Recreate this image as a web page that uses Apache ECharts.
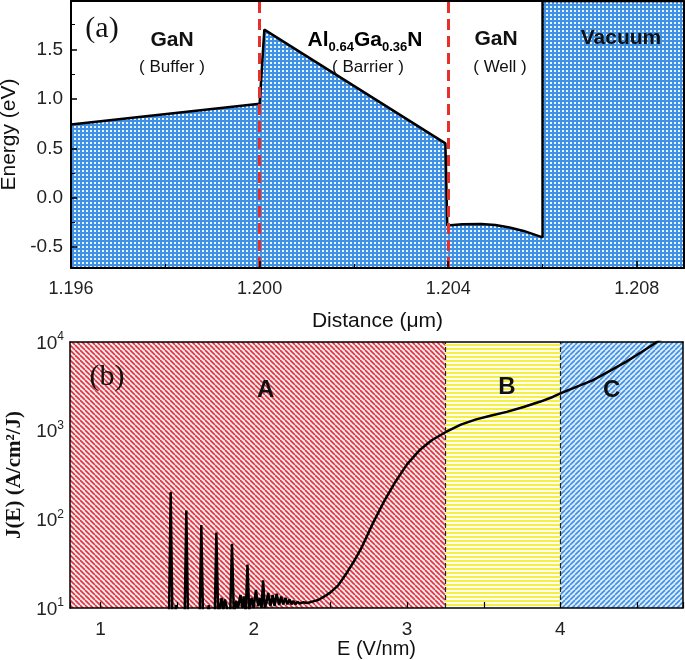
<!DOCTYPE html>
<html>
<head>
<meta charset="utf-8">
<script src="https://cdn.jsdelivr.net/npm/echarts@6/dist/echarts.min.js"></script>
<style>
html, body { margin: 0; padding: 0; background: #fff; }
#chart { width: 685px; height: 660px; }
</style>
</head>
<body>
<div id="chart"></div>
<script>
// (a) band profile
const distance = [1.196, 1.2000, 1.2001, 1.20394, 1.20398, 1.2043, 1.2047, 1.2050, 1.2053, 1.2056, 1.206, 1.206, 1.209]
const energy = [0.74, 0.95, 1.70, 0.55, -0.28, -0.268, -0.265, -0.275, -0.30, -0.335, -0.40, 1.99, 1.99]
const interfaces = [1.200, 1.204]
const layerNames = ['GaN', 'Al0.64Ga0.36N', 'GaN', 'Vacuum']
const layerRoles = ['Buffer', 'Barrier', 'Well', '']

// (b) J(E) vs field
const field = [
    1.40, 1.445, 1.457, 1.469, 1.483, 1.490, 1.497,
    1.547, 1.559, 1.571,
    1.645, 1.657, 1.669, 1.690, 1.705, 1.720,
    1.743, 1.755, 1.767, 1.789, 1.800, 1.811, 1.830, 1.845,
    1.857, 1.869, 1.885, 1.897, 1.912, 1.925, 1.935, 1.947,
    1.958, 1.969, 1.985, 1.998, 2.013, 2.028, 2.040, 2.050,
    2.060, 2.071, 2.082, 2.093, 2.108, 2.122, 2.135, 2.148, 2.165, 2.178, 2.191, 2.206, 2.218, 2.232, 2.245, 2.258, 2.272, 2.285,
    2.30, 2.32, 2.35, 2.38, 2.42, 2.46, 2.50, 2.55, 2.60, 2.65, 2.70, 2.78, 2.85, 2.92,
    3.00, 3.08, 3.16, 3.25, 3.35, 3.45, 3.55, 3.65, 3.76, 3.87, 3.95, 4.00, 4.10, 4.21, 4.32, 4.43, 4.53, 4.63, 4.70
]
const current = [
    6, 6, 203, 6, 6, 10.8, 6,
    6, 126, 6,
    6, 86, 6, 6, 10.8, 6,
    6, 71, 8, 13, 9.5, 12.5, 9, 8,
    53, 8.5, 12, 10, 14, 10, 13.5, 9,
    31, 9.5, 13, 10, 16, 10.5, 13, 10,
    20.5, 10, 11.5, 14.8, 10.5, 14, 10.5, 14.5, 10.8, 13.5, 11, 13, 11, 12.5, 11, 12, 11, 11.8,
    11.2, 11.6, 11.4, 11.8, 12.3, 13.5, 15, 18, 24, 33, 47, 93, 160, 260,
    420, 600, 780, 960, 1170, 1340, 1480, 1630, 1850, 2130, 2400, 2630, 3100, 3700, 4700, 6000, 7700, 10000, 12000
]
const regionBounds = [0.8, 3.25, 4.0, 4.8]
const regionNames = ['A', 'B', 'C']

const makePattern = (size, bg, fg, draw) => {
    const c = document.createElement('canvas')
    c.width = size
    c.height = size
    const ctx = c.getContext('2d')
    ctx.fillStyle = bg
    ctx.fillRect(0, 0, size, size)
    ctx.fillStyle = fg
    ctx.strokeStyle = fg
    draw(ctx, size)
    return { image: c, repeat: 'repeat' }
}

const gridFill = makePattern(4, '#eaf4ff', '#3f91e6', (ctx, s) => {
    ctx.fillRect(0, 0, s, 2)
    ctx.fillRect(0, 0, 2, s)
})
const redFill = makePattern(5, '#fdeaea', '#dd3444', (ctx, s) => {
    ctx.lineWidth = 1.6
    for (let k = -1; k <= 1; k++) {
        ctx.beginPath(); ctx.moveTo(k * s, 0); ctx.lineTo(k * s + s, s); ctx.stroke()
    }
})
const yellowFill = makePattern(4, '#fffff2', '#f3ef45', (ctx, s) => {
    ctx.fillRect(0, 0, s, 2)
})
const blueFill = makePattern(5, '#dfeeff', '#3f8fe2', (ctx, s) => {
    ctx.lineWidth = 1.6
    for (let k = -1; k <= 1; k++) {
        ctx.beginPath(); ctx.moveTo(k * s, s); ctx.lineTo(k * s + s, 0); ctx.stroke()
    }
})
const regionFills = [redFill, yellowFill, blueFill]
const regionLabelOffset = [[8, 0], [4, -3], [-10, 0]]

const sans = '"Liberation Sans", Arial, sans-serif'
const serif = '"Liberation Serif", "Times New Roman", serif'

const labelStyle = { color: '#222', fontSize: 18, fontFamily: sans }

const txt = (x, y, text, font, extra) => ({
    type: 'text', x, y, z: 100,
    style: Object.assign({ text, font, fill: '#111', align: 'center', verticalAlign: 'middle', textAlign: 'center', textVerticalAlign: 'middle' }, extra || {})
})

const subRich = {
    b: { fontSize: 21, fontWeight: 'bold', fontFamily: sans, lineHeight: 24, verticalAlign: 'top', color: '#111' },
    s: { fontSize: 13, fontWeight: 'bold', fontFamily: sans, lineHeight: 14, padding: [13, 0, 0, 0], verticalAlign: 'bottom', color: '#111' }
}
const formulaRich = (name) => {
    const m = name.match(/^Al([\d.]+)Ga([\d.]+)N$/)
    return m ? `{b|Al}{s|${m[1]}}{b|Ga}{s|${m[2]}}{b|N}` : `{b|${name}}`
}

const chart = echarts.init(document.getElementById('chart'), null, { renderer: 'canvas' })

const option = {
    animation: false,
    grid: [
        { left: 71, right: 1, top: 1, height: 267, containLabel: false, outerBoundsMode: 'none' },
        { left: 70, right: 2, top: 342, height: 266, containLabel: false, outerBoundsMode: 'none' }
    ],
    xAxis: [
        {
            type: 'value', gridIndex: 0, min: 1.196, max: 1.209, interval: 0.004, z: 10,
            axisLine: { onZero: false, lineStyle: { color: '#000', width: 2 } },
            axisTick: { inside: true, length: 7, lineStyle: { color: '#000', width: 1.5 } },
            minorTick: { show: true, splitNumber: 2, length: 4, lineStyle: { color: '#000' } },
            splitLine: { show: false },
            axisLabel: Object.assign({}, labelStyle, {
                margin: 12,
                formatter: v => Math.abs(v - 1.209) < 1e-6 ? '' : v.toFixed(3)
            }),
            name: 'Distance (\u03bcm)', nameLocation: 'middle', nameGap: 43,
            nameTextStyle: { color: '#111', fontSize: 21, fontFamily: sans }
        },
        {
            type: 'value', gridIndex: 0, position: 'top', min: 1.196, max: 1.209, z: 10,
            axisLine: { show: true, onZero: false, lineStyle: { color: '#000', width: 2 } },
            axisTick: { show: false }, axisLabel: { show: false }, splitLine: { show: false }
        },
        {
            type: 'value', gridIndex: 1, min: 0.8, max: 4.8, splitNumber: 8, z: 10,
            axisLine: { onZero: false, lineStyle: { color: '#000', width: 1.5 } },
            axisTick: { inside: true, length: 6, lineStyle: { color: '#000', width: 1.2 } },
            splitLine: { show: false },
            axisLabel: Object.assign({}, labelStyle, {
                fontSize: 19, margin: 12,
                formatter: v => Math.abs(v - Math.round(v)) < 1e-6 ? String(Math.round(v)) : ''
            }),
            name: 'E (V/nm)', nameLocation: 'middle', nameGap: 29,
            nameTextStyle: { color: '#111', fontSize: 20, fontFamily: sans }
        },
        {
            type: 'value', gridIndex: 1, position: 'top', min: 0.8, max: 4.8, z: 10,
            axisLine: { show: true, onZero: false, lineStyle: { color: '#000', width: 1.5 } },
            axisTick: { show: false }, axisLabel: { show: false }, splitLine: { show: false }
        }
    ],
    yAxis: [
        {
            type: 'value', gridIndex: 0, min: -0.71, max: 1.99, splitNumber: 5, z: 10,
            axisLine: { onZero: false, lineStyle: { color: '#000', width: 2 } },
            axisTick: { inside: true, length: 6, lineStyle: { color: '#000', width: 1.5 } },
            minorTick: { show: true, splitNumber: 2, length: 4, lineStyle: { color: '#000' } },
            splitLine: { show: false },
            axisLabel: Object.assign({}, labelStyle, {
                fontSize: 19, margin: 8,
                formatter: v => Math.abs(v * 2 - Math.round(v * 2)) < 1e-6 ? v.toFixed(1) : ''
            }),
            name: 'Energy (eV)', nameLocation: 'middle', nameGap: 44,
            nameTextStyle: { color: '#111', fontSize: 21, fontFamily: sans }
        },
        {
            type: 'value', gridIndex: 0, position: 'right', min: -0.71, max: 1.99, z: 10,
            axisLine: { show: true, onZero: false, lineStyle: { color: '#000', width: 2 } },
            axisTick: { show: false }, axisLabel: { show: false }, splitLine: { show: false }
        },
        {
            type: 'log', gridIndex: 1, logBase: 10, min: 10, max: 10000, z: 10,
            axisLine: { onZero: false, lineStyle: { color: '#000', width: 1.5 } },
            axisTick: { show: false },
            splitLine: { show: false },
            axisLabel: {
                margin: 6,
                formatter: v => `{b|10}{s|${Math.round(Math.log10(v))}}`,
                rich: {
                    b: { fontSize: 19, fontFamily: sans, color: '#222', lineHeight: 22, verticalAlign: 'bottom' },
                    s: { fontSize: 12, fontFamily: sans, color: '#222', lineHeight: 14, verticalAlign: 'top' }
                }
            },
            name: 'J(E) (A/cm\u00b2/J)', nameLocation: 'middle', nameGap: 40,
            nameTextStyle: { color: '#111', fontSize: 21, fontWeight: 'bold', fontFamily: serif }
        },
        {
            type: 'log', gridIndex: 1, position: 'right', logBase: 10, min: 10, max: 10000, z: 10,
            axisLine: { show: true, onZero: false, lineStyle: { color: '#000', width: 1.5 } },
            axisTick: { show: false }, axisLabel: { show: false }, splitLine: { show: false }
        }
    ],
    series: [
        {
            type: 'line', xAxisIndex: 0, yAxisIndex: 0,
            data: distance.map((d, i) => [d, energy[i]]),
            symbol: 'none', clip: true,
            lineStyle: { color: '#000', width: 2.5 },
            areaStyle: { color: gridFill, opacity: 1, origin: 'start' },
            markLine: {
                silent: true, symbol: 'none', label: { show: false },
                lineStyle: { color: '#e8302b', width: 3, type: [11, 6] },
                data: interfaces.map(x => [{ coord: [x, -0.71] }, { coord: [x, 1.99] }])
            },
            z: 3
        },
        {
            type: 'line', xAxisIndex: 2, yAxisIndex: 2,
            data: field.map((e, i) => [e, current[i]]),
            symbol: 'none', clip: true,
            lineStyle: { color: '#000', width: 2.5 },
            markArea: {
                silent: true,
                data: regionNames.map((n, i) => [
                    {
                        name: n, xAxis: regionBounds[i],
                        itemStyle: { color: regionFills[i], opacity: 1 },
                        label: {
                            show: true, position: 'insideTop', distance: 36, offset: regionLabelOffset[i],
                            color: '#111', fontSize: 24, fontWeight: 'bold', fontFamily: sans
                        }
                    },
                    { xAxis: regionBounds[i + 1] }
                ])
            },
            markLine: {
                silent: true, symbol: 'none', label: { show: false },
                lineStyle: { color: '#222', width: 1.2, type: [5, 3] },
                data: regionBounds.slice(1, -1).map(x => [{ coord: [x, 10] }, { coord: [x, 10000] }])
            },
            z: 3
        }
    ],
    graphic: [
        txt(102, 29, '(a)', `30px ${serif}`),
        txt(107, 377, '(b)', `30px ${serif}`),
        txt(172, 40, layerNames[0], `bold 21px ${sans}`),
        txt(172, 67, `( ${layerRoles[0]} )`, `17px ${sans}`),
        { type: 'text', x: 365, y: 42, z: 100, style: { text: formulaRich(layerNames[1]), rich: subRich, align: 'center', verticalAlign: 'middle', textAlign: 'center', textVerticalAlign: 'middle' } },
        txt(368, 67, `( ${layerRoles[1]} )`, `17px ${sans}`),
        txt(496, 39, layerNames[2], `bold 21px ${sans}`),
        txt(500, 67, `( ${layerRoles[2]} )`, `17px ${sans}`),
        txt(621, 38, layerNames[3], `bold 21px ${sans}`)
    ]
}

chart.setOption(option)
</script>
</body>
</html>
